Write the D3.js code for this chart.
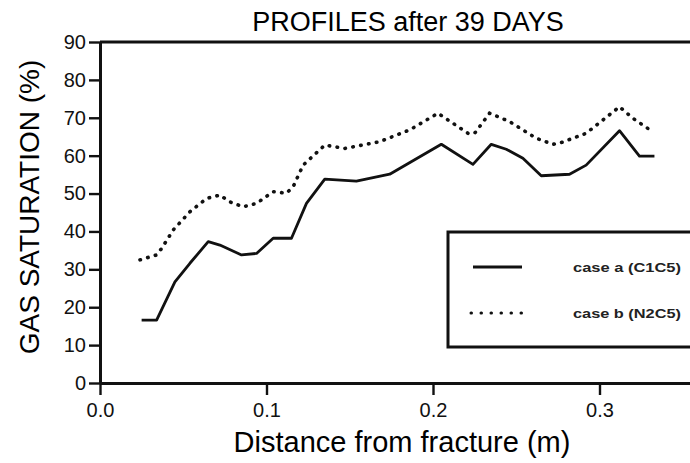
<!DOCTYPE html>
<html>
<head>
<meta charset="utf-8">
<script src="https://cdn.jsdelivr.net/npm/d3@7"></script>
<style>
  body { margin: 0; background: #fff; }
  svg { display: block; }
</style>
</head>
<body>
<div id="container"></div>
<script>

// case a (C1C5), solid line
let distA = [0.025, 0.034, 0.045, 0.054, 0.065, 0.072, 0.085, 0.094, 0.104, 0.115, 0.124, 0.135, 0.154, 0.174, 0.205, 0.224, 0.235, 0.244, 0.254, 0.265, 0.282, 0.292, 0.312, 0.324, 0.333];
let satA  = [16.6, 16.6, 26.7, 31.6, 37.3, 36.4, 33.8, 34.2, 38.2, 38.2, 47.4, 53.8, 53.3, 55.1, 63.0, 57.7, 63.0, 61.7, 59.3, 54.7, 55.1, 57.5, 66.6, 59.9, 59.9];

// case b (N2C5), dotted line
let distB = [0.024, 0.034, 0.037, 0.044, 0.054, 0.064, 0.072, 0.078, 0.086, 0.094, 0.104, 0.112, 0.116, 0.122, 0.135, 0.147, 0.168, 0.186, 0.203, 0.221, 0.225, 0.234, 0.246, 0.262, 0.272, 0.276, 0.292, 0.312, 0.320, 0.329];
let satB  = [32.5, 33.8, 35.5, 40.4, 45.2, 48.7, 49.6, 47.8, 46.5, 47.4, 50.5, 50.1, 51.8, 57.5, 62.8, 61.9, 63.7, 66.8, 71.2, 65.9, 65.9, 71.2, 69.0, 64.6, 63.0, 63.3, 65.9, 72.9, 69.9, 67.2];

let xTicks = [0, 0.1, 0.2, 0.3];
let yTicks = [0, 10, 20, 30, 40, 50, 60, 70, 80, 90];
let legendLabels = ["case a (C1C5)", "case b (N2C5)"];

let w = 690;
let h = 463;
let padLeft = 100;
let padTop = 42;
let padBottom = 383;

let viz = d3.select("#container")
  .append("svg")
    .attr("width", w)
    .attr("height", h)
;

let xScale = d3.scaleLinear().domain([0, 0.36]).range([padLeft, padLeft + 0.36 * 1665]);
let yScale = d3.scaleLinear().domain([0, 90]).range([padBottom, padTop]);

let font = "'Liberation Sans', Arial, sans-serif";

// title
viz.append("text")
  .text("PROFILES after 39 DAYS")
  .attr("x", 408)
  .attr("y", 31)
  .attr("text-anchor", "middle")
  .attr("font-family", font)
  .attr("font-size", "27px")
;

// axes
let xAxis = d3.axisBottom(xScale)
  .tickValues(xTicks)
  .tickFormat(d3.format(".1f"))
  .tickSize(12)
  .tickSizeOuter(0)
  .tickPadding(8);
let xAxisGroup = viz.append("g")
    .attr("class", "xaxisgroup")
    .attr("transform", "translate(0," + padBottom + ")")
;
xAxisGroup.call(xAxis);

let yAxis = d3.axisLeft(yScale)
  .tickValues(yTicks)
  .tickSize(11)
  .tickSizeOuter(0)
  .tickPadding(3);
let yAxisGroup = viz.append("g")
    .attr("class", "yaxisgroup")
    .attr("transform", "translate(" + padLeft + ",0)")
;
yAxisGroup.call(yAxis);

viz.selectAll(".domain").attr("stroke", "#111").attr("stroke-width", 3);
viz.selectAll(".tick line").attr("stroke", "#111").attr("stroke-width", 2.4);
viz.selectAll(".tick text")
  .attr("font-family", font)
  .attr("font-size", "20px")
  .attr("fill", "#111")
;

// top frame line
viz.append("line")
  .attr("x1", padLeft)
  .attr("x2", w)
  .attr("y1", yScale(90))
  .attr("y2", yScale(90))
  .attr("stroke", "#111")
  .attr("stroke-width", 3)
;

// axis titles
viz.append("text")
  .text("GAS SATURATION (%)")
  .attr("transform", "translate(39,207) rotate(-90)")
  .attr("text-anchor", "middle")
  .attr("font-family", font)
  .attr("font-size", "28px")
;
viz.append("text")
  .text("Distance from fracture (m)")
  .attr("x", 402)
  .attr("y", 452)
  .attr("text-anchor", "middle")
  .attr("font-family", font)
  .attr("font-size", "29px")
;

// curves
let lineMaker = d3.line()
  .x(function(d){ return xScale(d[0]); })
  .y(function(d){ return yScale(d[1]); });

let dataA = distA.map(function(d, i){ return [d, satA[i]]; });
let dataB = distB.map(function(d, i){ return [d, satB[i]]; });

viz.append("path")
  .datum(dataA)
  .attr("d", lineMaker)
  .attr("fill", "none")
  .attr("stroke", "#111")
  .attr("stroke-width", 2.8)
  .attr("stroke-linejoin", "round")
;
viz.append("path")
  .datum(dataB)
  .attr("d", lineMaker)
  .attr("fill", "none")
  .attr("stroke", "#111")
  .attr("stroke-width", 3.6)
  .attr("stroke-linecap", "round")
  .attr("stroke-dasharray", "0.5,7.5")
;

// legend
let legend = viz.append("g").attr("class", "legend");
legend.append("rect")
  .attr("x", 448)
  .attr("y", 232)
  .attr("width", 260)
  .attr("height", 115)
  .attr("fill", "#fff")
  .attr("stroke", "#111")
  .attr("stroke-width", 3)
;
legend.append("line")
  .attr("x1", 473).attr("x2", 522)
  .attr("y1", 267).attr("y2", 267)
  .attr("stroke", "#111")
  .attr("stroke-width", 2.8)
;
legend.append("line")
  .attr("x1", 471).attr("x2", 522)
  .attr("y1", 313).attr("y2", 313)
  .attr("stroke", "#111")
  .attr("stroke-width", 3)
  .attr("stroke-linecap", "round")
  .attr("stroke-dasharray", "0.5,9.5")
;
legend.selectAll(".legendlabel").data(legendLabels).enter()
  .append("text")
    .attr("class", "legendlabel")
    .text(function(d){ return d; })
    .attr("x", 573)
    .attr("y", function(d, i){ return 272 + i * 46; })
    .attr("font-family", font)
    .attr("font-size", "12px")
    .attr("font-weight", "bold")
    .attr("textLength", 108)
    .attr("lengthAdjust", "spacingAndGlyphs")
    .attr("fill", "#222")
;

</script>
</body>
</html>
